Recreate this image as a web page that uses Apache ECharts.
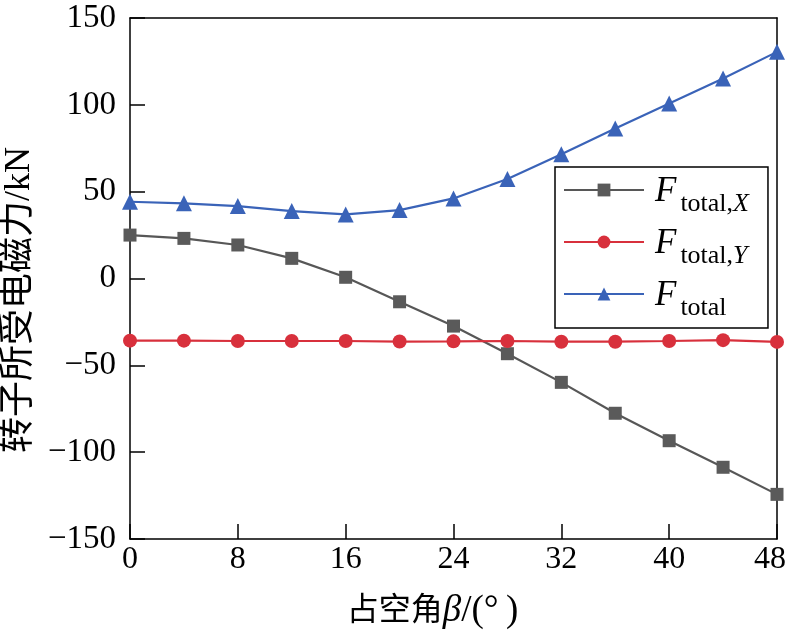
<!DOCTYPE html>
<html><head><meta charset="utf-8">
<script src="https://cdn.jsdelivr.net/npm/echarts@6/dist/echarts.min.js"></script>
<style>html,body{margin:0;padding:0;background:#fff}#c{width:789px;height:632px}</style>
</head><body><div id="c"></div>
<script>
const angles = [0,4,8,12,16,20,24,28,32,36,40,44,48];
const fX = [25,23.1,19.3,11.6,0.7,-13.4,-27.4,-43.3,-59.8,-77.6,-93.4,-108.7,-124.3];
const fY = [-35.8,-35.8,-36,-36,-36,-36.3,-36.2,-36,-36.4,-36.4,-36,-35.5,-36.5];
const fT = [44.2,43.3,41.7,38.8,36.9,39.4,46.1,57.3,71.6,86.4,100.8,115.2,130.5];
const xTicks = [0,8,16,24,32,40,48];
const yTicks = [-150,-100,-50,0,50,100,150];
const yTitle = '转子所受电磁力/kN';
const serif = "'Liberation Serif','Noto Sans CJK SC',serif";
const mk = (arr) => arr.map((v,i)=>[angles[i], v]);
const chart = echarts.init(document.getElementById('c'));
const leg = {X:['total,','X'], Y:['total,','Y'], T:['total','']};
const frameAxis = {axisLine:{show:true,onZero:false,lineStyle:{color:'#000',width:1.5}},axisTick:{show:false},axisLabel:{show:false},splitLine:{show:false}};
chart.setOption({
  animation:false,
  grid:{left:130,right:12,top:18,bottom:93,outerBoundsMode:'none',containLabel:false},
  graphic:[{type:'text',x:20,y:300,rotation:Math.PI/2,
    style:{text:yTitle,font:"36px 'Liberation Serif','Noto Sans CJK SC',serif",fill:'#000',align:'center',verticalAlign:'middle'}}],
  xAxis:[{type:'value',min:0,max:48,interval:8,position:'bottom',
    axisLine:{onZero:false,lineStyle:{color:'#000',width:1.5}},
    axisTick:{show:true,inside:true,length:15,lineStyle:{color:'#000',width:1.5}},
    splitLine:{show:false},
    axisLabel:{color:'#000',fontFamily:serif,fontSize:32,margin:5,
      formatter:v=> v===xTicks[xTicks.length-1] ? '{r|'+v+'}' : String(v),
      rich:{r:{fontFamily:serif,fontSize:32,color:'#000',padding:[0,14,0,0]}}},
    name:'{a|占空角}{b|β}{c|/(°\u2009)}',nameLocation:'middle',nameGap:54,
    nameTextStyle:{padding:[0,42,0,0],rich:{a:{fontFamily:serif,fontSize:32,color:'#000'},b:{fontFamily:serif,fontSize:37,fontStyle:'italic',color:'#000'},c:{fontFamily:serif,fontSize:37,color:'#000'}}}
  },
  Object.assign({type:'value',min:0,max:48,position:'top'},frameAxis)],
  yAxis:[{type:'value',min:-150,max:150,interval:50,position:'left',
    axisLine:{onZero:false,lineStyle:{color:'#000',width:1.5}},
    axisTick:{show:true,inside:true,length:15,lineStyle:{color:'#000',width:1.5}},
    splitLine:{show:false},
    axisLabel:{color:'#000',fontFamily:serif,fontSize:33,margin:14,formatter:v=>String(v).replace('-','\u2212')}
  },
  Object.assign({type:'value',min:-150,max:150,position:'right'},frameAxis)],
  legend:{
    orient:'vertical',left:555,top:167,
    itemWidth:80,itemHeight:16,itemGap:9,
    borderColor:'#000',borderWidth:1.5,padding:[7,19,7,8],
    data:['X','Y','T'],
    formatter:function(n){return '{f|F}{s|'+leg[n][0]+'}{x|'+leg[n][1]+'}';},
    textStyle:{rich:{
      f:{fontFamily:serif,fontStyle:'italic',fontSize:35,color:'#000',verticalAlign:'bottom',lineHeight:38,padding:[0,0,0,6]},
      s:{fontFamily:serif,fontSize:26,color:'#000',verticalAlign:'bottom',lineHeight:28,padding:[0,0,-8,4]},
      x:{fontFamily:serif,fontStyle:'italic',fontSize:26,color:'#000',verticalAlign:'bottom',lineHeight:28,padding:[0,0,-8,0]}
    }}
  },
  series:[
    {name:'X',type:'line',data:mk(fX),symbol:'rect',symbolSize:13,
      lineStyle:{color:'#575757',width:2.2},itemStyle:{color:'#5a5a5a'}},
    {name:'Y',type:'line',data:mk(fY),symbol:'circle',symbolSize:14,
      lineStyle:{color:'#d8303c',width:2.2},itemStyle:{color:'#d8303c'}},
    {name:'T',type:'line',data:mk(fT),symbol:'triangle',symbolSize:16,
      lineStyle:{color:'#3a63b8',width:2.2},itemStyle:{color:'#3a63b8'}}
  ]
});
</script></body></html>
